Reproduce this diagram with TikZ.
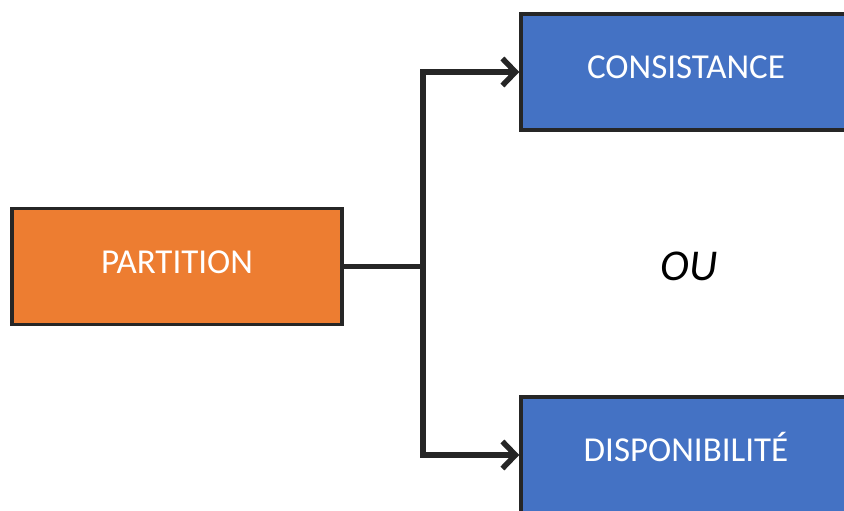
\documentclass[tikz,border=0pt]{standalone}
\usepackage{fontspec}
\setmainfont{Carlito}
\usetikzlibrary{arrows.meta}
\definecolor{partorange}{HTML}{ED7D31}
\definecolor{choixblue}{HTML}{4472C4}
\definecolor{trait}{HTML}{262626}
\begin{document}
\begin{tikzpicture}[x=1pt,y=-1pt,
    boite/.style={draw=trait,line width=3.5pt,minimum width=330pt,minimum height=116pt,inner sep=0pt,text height=22pt,text depth=9pt,text=white,font=\fontsize{35}{42}\selectfont},
    lien/.style={draw=trait,line width=5.5pt},
    fleche/.style={lien,-{Straight Barb[length=13pt,width=27pt]}}]
            \useasboundingbox (0,0) rectangle (844,511);
            \clip (0,0) rectangle (844,511);
            \node[boite,fill=partorange] (partition) at (177,266.5) {PARTITION};
            \node[boite,fill=choixblue] (consistance) at (686,72) {CONSISTANCE};
            \node[boite,fill=choixblue] (disponibilite) at (686,455) {DISPONIBILITÉ};
            \node[font=\fontsize{44}{52}\selectfont\itshape] (ou) at (689,266) {OU};
            \draw[lien] (partition.east) -- (423,266.5) coordinate (fourche);
            \draw[fleche] (fourche) |- (consistance.west);
            \draw[fleche] (fourche) |- (disponibilite.west);
        \end{tikzpicture}
\end{document}
